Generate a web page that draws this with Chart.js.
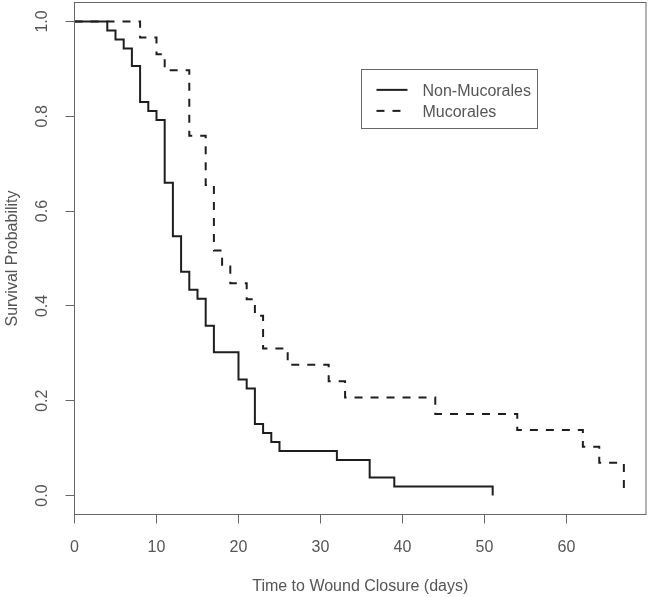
<!DOCTYPE html>
<html>
<head>
<meta charset="utf-8">
<script src="https://cdn.jsdelivr.net/npm/chart.js@4/dist/chart.umd.min.js"></script>
<style>
html,body{margin:0;padding:0;background:#fff;}
#wrap{width:650px;height:597px;}
</style>
</head>
<body>
<div id="wrap"><canvas id="c" width="650" height="597"></canvas></div>
<script>
// Kaplan-Meier curves
const nonMucTimes = [0, 4, 5, 6, 7, 8, 9, 10, 11, 12, 13, 14, 15, 16, 17, 20, 21, 22, 23, 24, 25, 32, 36, 39, 51];
const nonMucSurv  = [1, 0.981, 0.962, 0.943, 0.906, 0.830, 0.811, 0.792, 0.660, 0.547, 0.472, 0.434, 0.415, 0.358, 0.302, 0.245, 0.226, 0.151, 0.132, 0.113, 0.094, 0.075, 0.038, 0.019, 0];
const mucTimes = [0, 8, 10, 11, 14, 16, 17, 18, 19, 21, 22, 23, 26, 31, 33, 44, 54, 62, 64, 67];
const mucSurv  = [1, 0.966, 0.931, 0.897, 0.759, 0.655, 0.517, 0.483, 0.448, 0.414, 0.379, 0.310, 0.276, 0.241, 0.207, 0.172, 0.138, 0.103, 0.069, 0];
const seriesLabels = ["Non-Mucorales", "Mucorales"];
const xTickValues = [0, 10, 20, 30, 40, 50, 60];
const yTickValues = [0, 0.2, 0.4, 0.6, 0.8, 1.0];
const xTitle = "Time to Wound Closure (days)";
const yTitle = "Survival Probability";

const FONT = "'Liberation Sans', Arial, Helvetica, sans-serif";
const TEXT = "#555555";
const AXIS = "#666666";
const LINE = "#1e1e1e";

function toXY(ts, ss){ return ts.map((t,i)=>({x:t, y:ss[i]})); }

const boxPlugin = {
  id: 'box',
  afterDatasetsDraw(chart){
    const {ctx, chartArea:a} = chart;
    ctx.save();
    ctx.strokeStyle = AXIS;
    ctx.lineWidth = 1;
    ctx.strokeRect(a.left, a.top, a.right - a.left, a.bottom - a.top);
    ctx.restore();
  }
};

const legendPlugin = {
  id: 'rlegend',
  afterDraw(chart){
    const {ctx, scales} = chart;
    const x0 = scales.x.getPixelForValue(35);
    const y0 = scales.y.getPixelForValue(0.9);
    const w = 176, h = 59;
    ctx.save();
    ctx.strokeStyle = AXIS;
    ctx.lineWidth = 1;
    ctx.strokeRect(Math.round(x0)+0.5, Math.round(y0)+0.5, w, h);
    ctx.font = "16px " + FONT;
    ctx.textBaseline = 'alphabetic';
    ctx.textAlign = 'left';
    chart.data.datasets.forEach((ds, i) => {
      const ly = y0 + 21 + i*21;
      ctx.strokeStyle = ds.borderColor;
      ctx.lineWidth = ds.borderWidth;
      ctx.setLineDash(ds.borderDash || []);
      ctx.beginPath();
      ctx.moveTo(x0 + 15, ly);
      ctx.lineTo(x0 + 46, ly);
      ctx.stroke();
      ctx.setLineDash([]);
      ctx.fillStyle = TEXT;
      ctx.fillText(ds.label, x0 + 61, ly + 6.5);
    });
    ctx.restore();
  }
};

new Chart(document.getElementById('c'), {
  type: 'line',
  data: {
    datasets: [
      { label: seriesLabels[0], data: toXY(nonMucTimes, nonMucSurv), stepped: 'before',
        borderColor: LINE, borderWidth: 2, pointRadius: 0, fill: false, borderDash: [] },
      { label: seriesLabels[1], data: toXY(mucTimes, mucSurv), stepped: 'before',
        borderColor: LINE, borderWidth: 2, pointRadius: 0, fill: false, borderDash: [8, 8] }
    ]
  },
  options: {
    responsive: false,
    animation: false,
    devicePixelRatio: 1,
    layout: { padding: { top: 2.5, right: 4, left: 0, bottom: 0 } },
    plugins: { legend: { display: false }, tooltip: { enabled: false } },
    elements: { line: { tension: 0, capBezierPoints: false } },
    scales: {
      x: {
        type: 'linear', min: 0, max: 69.7,
        afterBuildTicks: s => { s.ticks = xTickValues.map(v => ({value: v})); },
        afterFit: s => { s.height = 82.5; s.paddingLeft = 0; s.paddingRight = 0; },
        ticks: { includeBounds: false, padding: 14, color: TEXT, font: { family: FONT, size: 16 },
                 maxRotation: 0, autoSkip: false, callback: v => String(v) },
        grid: { display: true, drawOnChartArea: false, drawTicks: true, tickLength: 9, color: AXIS, lineWidth: 1 },
        border: { display: false },
        title: { display: true, text: xTitle, color: TEXT, font: { family: FONT, size: 16 }, padding: { top: 0, bottom: 1 } }
      },
      y: {
        type: 'linear', min: -0.04, max: 1.04,
        afterBuildTicks: s => { s.ticks = yTickValues.map(v => ({value: v})); },
        afterFit: s => { s.width = 74.5; s.paddingTop = 0; s.paddingBottom = 0; },
        ticks: { includeBounds: false, padding: 12, color: TEXT, font: { family: FONT, size: 16 },
                 minRotation: 90, maxRotation: 90, crossAlign: 'center', autoSkip: false,
                 callback: v => Number(v).toFixed(1) },
        grid: { display: true, drawOnChartArea: false, drawTicks: true, tickLength: 9, color: AXIS, lineWidth: 1 },
        border: { display: false },
        title: { display: true, text: yTitle, color: TEXT, font: { family: FONT, size: 16 }, padding: { top: 3, bottom: 0 } }
      }
    }
  },
  plugins: [boxPlugin, legendPlugin]
});
</script>
</body>
</html>
